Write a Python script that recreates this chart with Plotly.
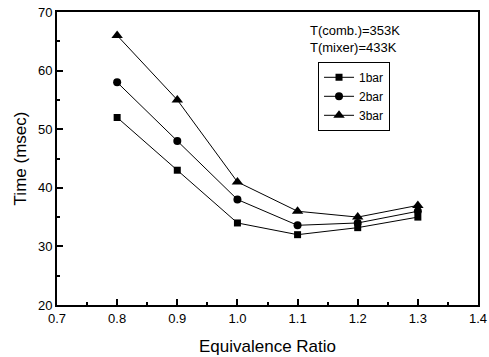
import plotly.graph_objects as go

phi = [0.8, 0.9, 1.0, 1.1, 1.2, 1.3]
t_1bar = [52, 43, 34, 32, 33.2, 35]
t_2bar = [58, 48, 38, 33.6, 34, 36]
t_3bar = [66, 55, 41, 36, 35, 37]
names = ["1bar", "2bar", "3bar"]
symbols = ["square", "circle", "triangle-up"]
msizes = [7, 8, 10]

FONT = "Arial, Liberation Sans, sans-serif"

fig = go.Figure()
for name, ys, sym, ms in zip(names, [t_1bar, t_2bar, t_3bar], symbols, msizes):
    fig.add_trace(go.Scatter(x=phi, y=ys, name=name, mode="lines+markers",
                             line=dict(color="black", width=1),
                             marker=dict(symbol=sym, size=ms, color="black")))

axis_common = dict(showline=True, linecolor="black", linewidth=2, mirror=True,
                   ticks="inside", ticklen=6, tickwidth=2, tickcolor="black",
                   showgrid=False, zeroline=False, automargin=False,
                   tickfont=dict(family=FONT, size=13, color="black"))

fig.update_xaxes(range=[0.7, 1.4], dtick=0.1, tickformat=".1f",
                 minor=dict(dtick=0.05, ticks="inside", ticklen=3, tickcolor="black"),
                 title=dict(text="Equivalence Ratio", font=dict(family=FONT, size=17, color="black"), standoff=16),
                 **axis_common)
fig.update_yaxes(range=[20, 70], dtick=10,
                 minor=dict(dtick=5, ticks="inside", ticklen=3, tickcolor="black"),
                 title=dict(text="Time (msec)", font=dict(family=FONT, size=17, color="black"), standoff=7),
                 **axis_common)

fig.add_annotation(x=0.82, y=0.97, xref="paper", yref="paper", xanchor="right", yanchor="top",
                   text="T(comb.)=353K<br>T(mixer)=433K", showarrow=False, align="left",
                   font=dict(family=FONT, size=13, color="black"))

fig.update_layout(width=489, height=357, margin=dict(l=57, r=11, t=12, b=52),
                  plot_bgcolor="white", paper_bgcolor="white",
                  legend=dict(x=0.62, y=0.83, xanchor="left", yanchor="top",
                              bordercolor="black", borderwidth=1, bgcolor="white",
                              font=dict(family=FONT, size=12, color="black"),
                              tracegroupgap=0, itemwidth=30))

fig.write_html("out.html", config={"displayModeBar": False},
               post_script="document.body.style.margin='0';")
